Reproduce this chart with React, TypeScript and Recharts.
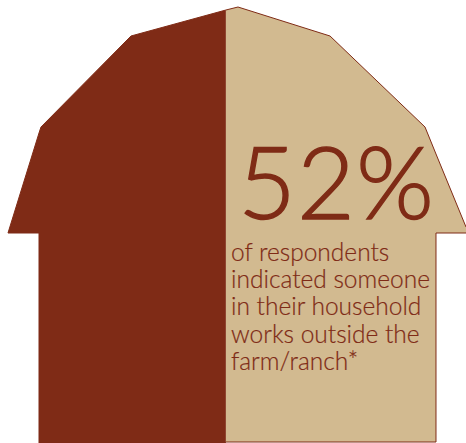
import { AreaChart, Area, XAxis, YAxis, ReferenceDot } from 'recharts';

const outsideShare = 52;
const restShare = 100 - outsideShare;

// barn profile: x as percent of the barn's width, heights measured up from the ground
const restX = [0, 6.83, 6.83, 7.27, 27.09, restShare];
const restTop = [210, 310, 310, 316, 407, 433];
const restBase = [210, 210, 0, 0, 0, 0];

const outsideX = [restShare, 50.66, 70.93, 91.85, 94.27, 94.27, 100.88];
const outsideTop = [433, 436, 407, 316, 289, 289, 216];
const outsideBase = [1, 1, 1, 1, 1, 210, 210];

const captionLines = [
  'of respondents',
  'indicated someone',
  'in their household',
  'works outside the',
  'farm/ranch*',
];

const table = [
  ...restX.map((x, i) => ({ x, rest: [restBase[i], restTop[i]] })),
  ...outsideX.map((x, i) => ({ x, outside: [outsideBase[i], outsideTop[i]] })),
];

const BROWN = '#7f2b16';
const TAN = '#d2ba90';
const FONT = 'Lato, sans-serif';

// headline number and caption, placed from the anchor dot
const Caption = ({ cx, cy }: { cx: number; cy: number }) => (
  <g>
    <text
      x={cx + 6}
      y={cy - 42}
      fontFamily={FONT}
      fontWeight={300}
      fontSize={100}
      letterSpacing={1}
      fill={BROWN}
      stroke={BROWN}
      strokeWidth={1.4}
    >
      {`${outsideShare}%`}
    </text>
    {captionLines.map((line, i) => (
      <text
        key={line}
        x={cx - 1}
        y={cy + i * 27.2}
        fontFamily={FONT}
        fontWeight={300}
        fontSize={24.5}
        fill={BROWN}
        stroke={BROWN}
        strokeWidth={0.2}
      >
        {line}
      </text>
    ))}
  </g>
);

export default function App() {
  return (
    <div style={{ position: 'absolute', left: 0, top: 0 }}>
      <AreaChart
        width={466}
        height={443}
        data={table}
        margin={{ top: 0, right: 0, bottom: 0, left: 0 }}
      >
        <XAxis dataKey="x" type="number" domain={[-1.76, 100.88]} hide />
        <YAxis type="number" domain={[0, 443]} hide />
        <Area
          dataKey="rest"
          type="linear"
          fill={BROWN}
          fillOpacity={1}
          stroke={BROWN}
          strokeWidth={1}
          dot={false}
          activeDot={false}
          isAnimationActive={false}
        />
        <Area
          dataKey="outside"
          type="linear"
          fill={TAN}
          fillOpacity={1}
          stroke={BROWN}
          strokeWidth={1}
          dot={false}
          activeDot={false}
          isAnimationActive={false}
        />
        <ReferenceDot x={49.34} y={182} shape={Caption} />
      </AreaChart>
    </div>
  );
}
